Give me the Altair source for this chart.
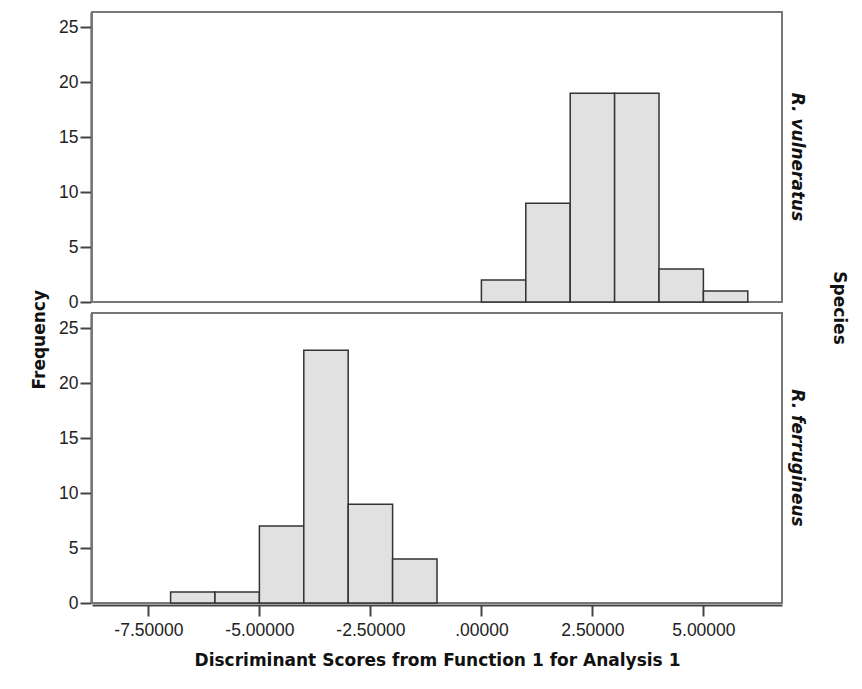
import altair as alt
import pandas as pd

species_order = ["R. vulneratus", "R. ferrugineus"]

vul_bin_start = [0, 1, 2, 3, 4, 5]
vul_counts = [2, 9, 19, 19, 3, 1]

fer_bin_start = [-7, -6, -5, -4, -3, -2]
fer_counts = [1, 1, 7, 23, 9, 4]

bin_width = 1
x_ticks = [-7.5, -5.0, -2.5, 0.0, 2.5, 5.0]
y_ticks = [0, 5, 10, 15, 20, 25]

rows = []
for s, c in zip(vul_bin_start, vul_counts):
    rows.append({"Species": species_order[0], "start": s, "end": s + bin_width, "count": c})
for s, c in zip(fer_bin_start, fer_counts):
    rows.append({"Species": species_order[1], "start": s, "end": s + bin_width, "count": c})
df = pd.DataFrame(rows)

bold_font = "DejaVu Sans"
tick_font = "Liberation Sans"

bars = alt.Chart(df).mark_bar(
    fill="#e1e1e1", stroke="#333333", strokeWidth=1.5
).encode(
    x=alt.X("start:Q",
            scale=alt.Scale(domain=[-8.77, 6.77], nice=False, zero=False),
            axis=alt.Axis(values=x_ticks,
                          labelExpr="datum.value == 0 ? '.00000' : replace(format(datum.value, '.5f'), '\u2212', '-')",
                          title="Discriminant Scores from Function 1 for Analysis 1",
                          grid=False, tickSize=11, labelPadding=5, titlePadding=14)),
    x2="end:Q",
    y=alt.Y("count:Q",
            scale=alt.Scale(domain=[0, 26.4], nice=False),
            axis=alt.Axis(values=y_ticks, title=None, grid=False,
                          tickSize=11, labelPadding=2)),
    y2=alt.datum(0),
).properties(width=690, height=290)

chart = bars.facet(
    row=alt.Row("Species:N", sort=species_order,
                header=alt.Header(title="Species", titleOrient="right", titleAngle=90,
                                  titleFont=bold_font, titleFontSize=17, titleFontWeight="bold",
                                  titleColor="#111", titlePadding=14,
                                  labelOrient="right", labelAngle=90,
                                  labelFont=bold_font, labelFontSize=17, labelFontWeight="bold",
                                  labelFontStyle="italic", labelColor="#111", labelPadding=5))
).properties(
    spacing=8,
    title=alt.TitleParams(text="Frequency", orient="left", anchor="middle",
                          font=bold_font, fontSize=17, fontWeight="bold", color="#111",
                          offset=10),
    padding={"left": 22, "top": 3, "right": 2, "bottom": 5}
).configure_view(
    stroke="#777777", strokeWidth=2
).configure_axis(
    domainColor="#444444", domainWidth=2, tickColor="#444444", tickWidth=2,
    labelFont=tick_font, labelFontSize=17.5, labelColor="#222222",
    titleFont=bold_font, titleFontSize=17, titleFontWeight="bold", titleColor="#111111"
)

chart.save("out.html", embed_options={"renderer": "svg", "actions": False})
